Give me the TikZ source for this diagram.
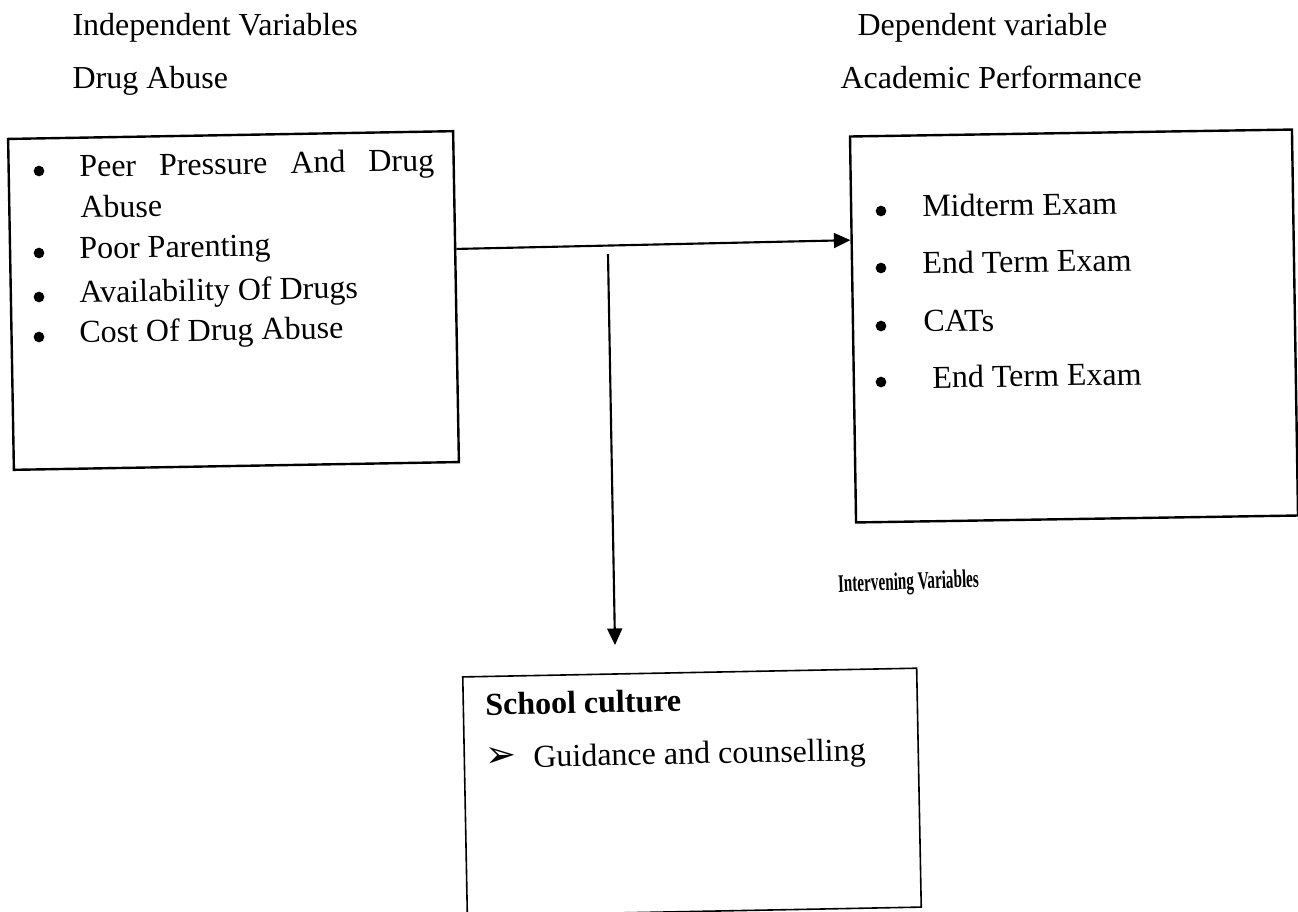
\documentclass[tikz,border=0pt]{standalone}
\usepackage{fontspec}
\setmainfont{Liberation Serif}
\newfontfamily\symfont{DejaVu Sans}
\usetikzlibrary{arrows.meta,calc}

\begin{document}
\begin{tikzpicture}[x=0.375pt, y=-0.375pt, font=\fontsize{12}{14}\selectfont,
	panel/.style={draw, line width=0.9pt, inner sep=0pt},
	item/.style={anchor=base west, inner sep=0pt},
	dot/.style={circle, fill, inner sep=0pt, minimum size=4pt},
	link/.style={line width=0.8pt, -{Triangle[length=6.2pt,width=5.6pt]}}]
	\useasboundingbox (0,0) rectangle (1298,911);
	\node[item] (ivtitle) at (72,35) {Independent Variables};
	\node[item] (ivname) at (72,88) {Drug Abuse};
	\node[item] (dvtitle) at (857,35) {Dependent variable};
	\node[item] (dvname) at (840,88) {Academic Performance};
	\node[panel, rotate=1, minimum width=166.9pt, minimum height=124.1pt] (iv) at (233.5,300.5) {};
	\node[panel, rotate=0.9, minimum width=165.75pt, minimum height=144.75pt] (dv) at (1074,326) {};
	\node[panel, line width=0.6pt, rotate=1.1, minimum width=170.25pt, minimum height=89.6pt] (sc) at (692,792) {};
	\foreach \y/\t [count=\i] in {177/{\makebox[133.1pt][s]{Peer Pressure And Drug}}, 259/Poor Parenting, 303/Availability Of Drugs, 343/Cost Of Drug Abuse}
		{\node[dot] (ivdot\i) at (39,\y-6) {}; \node[item, rotate=1] (ivitem\i) at (79,\y) {\t};}
	\node[item, rotate=1] (ivitem1b) at (80,218) {Abuse};
	\foreach \y/\x/\t [count=\i] in {217/922/Midterm Exam, 274/922/End Term Exam, 332/923/CATs, 388/932/End Term Exam}
		{\node[dot] (dvdot\i) at (881,\y-6) {}; \node[item, rotate=0.9] (dvitem\i) at (\x,\y) {\t};}
	\node[item, rotate=1.1, font=\fontsize{12}{14}\selectfont\bfseries] (schead) at (485,715) {School culture};
	\node[item, rotate=1.1, font=\fontsize{14}{16}\symfont] (scmark) at (485,767) {➢};
	\node[item, rotate=1.1] (scitem) at (533,767) {Guidance and counselling};
	\node[item, rotate=2, xscale=0.6, font=\fontsize{9.5}{11}\selectfont\bfseries] (ivar) at (838,592) {Intervening Variables};
	\coordinate (fork) at (608,254);
	\coordinate (drop) at (615,645);
	\draw[link] ($(iv.north east)!0.357!(iv.south east)$) -- ($(dv.north west)!0.27!(dv.south west)$);
	\draw[link] (fork) -- (drop);
\end{tikzpicture}
\end{document}
